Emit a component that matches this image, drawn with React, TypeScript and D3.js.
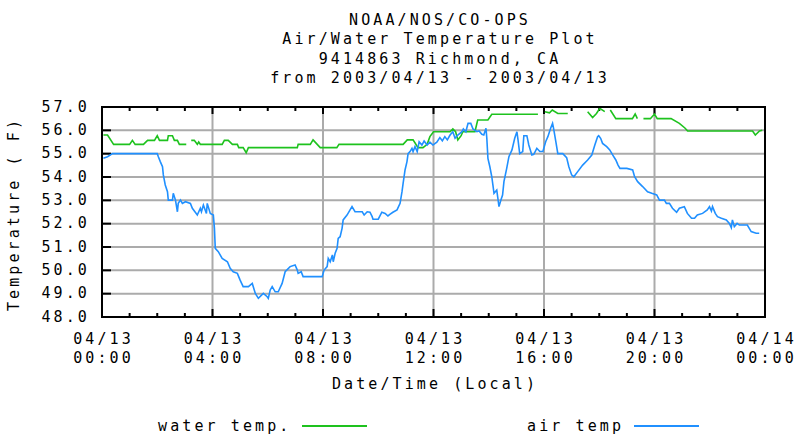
import React from "react";
import * as d3 from "d3";

const WIDTH = 796;
const HEIGHT = 436;
const MARGIN = { top: 107, right: 31, bottom: 119, left: 102 };
const FONT = "'DejaVu Sans Mono', monospace";

const titleLines = [
  "NOAA/NOS/CO-OPS",
  "Air/Water Temperature Plot",
  "9414863 Richmond, CA",
  "from 2003/04/13 - 2003/04/13",
];

// hours since 2003/04/13 00:00
const xTickHours = [0, 4, 8, 12, 16, 20, 24];
const xTickDates = ["04/13", "04/13", "04/13", "04/13", "04/13", "04/13", "04/14"];
const xTickTimes = ["00:00", "04:00", "08:00", "12:00", "16:00", "20:00", "00:00"];
const yTicks = [48, 49, 50, 51, 52, 53, 54, 55, 56, 57];

// water temp, null = missing sample
const waterTime = [
  0.05, 0.2, 0.42, 1.0, 1.1, 1.2, 1.5, 1.65, 1.9, 2.0, 2.08, 2.37, 2.4, 2.55, 2.62, 2.73, 2.8, 3.05,
  3.15, 3.23, 3.34, 3.45, 3.5, 3.56, 4.35, 4.43, 4.57, 4.72, 4.9, 4.95, 5.11, 5.22, 5.3, 7.07, 7.1,
  7.54, 7.64, 7.9, 8.5, 8.58, 10.9, 11.05, 11.26, 11.44, 11.62, 11.77, 11.87, 12.0, 12.6, 12.7, 12.8,
  12.88, 13.0, 13.06, 13.5, 13.6, 13.97, 14.11, 15.78, 15.9, 16.03, 16.2, 16.3, 16.5, 16.86, 17.2,
  17.58, 17.76, 17.9, 18.02, 18.2, 18.3, 18.4, 18.6, 19.2, 19.3, 19.38, 19.5, 19.6, 19.85, 20.0, 20.1,
  20.6, 20.9, 21.1, 21.2, 23.55, 23.65, 23.8, 23.9,
];
const waterTemp = [
  55.8, 55.8, 55.4, 55.4, 55.57, 55.4, 55.4, 55.57, 55.57, 55.77, 55.57, 55.57, 55.77, 55.77, 55.57,
  55.57, 55.4, 55.4, null, 55.57, 55.57, 55.4, 55.5, 55.4, 55.4, 55.57, 55.57, 55.4, 55.4, 55.26,
  55.26, 55.04, 55.26, 55.26, 55.4, 55.4, 55.59, 55.26, 55.26, 55.4, 55.4, 55.59, 55.59, 55.26,
  55.26, 55.4, 55.73, 55.94, 55.94, 56.06, 55.94, 55.59, 55.77, 55.94, 55.94, 56.44, 56.44, 56.69,
  56.69, null, 56.8, 56.75, 56.87, 56.72, 56.72, null, 56.8, 56.55, 56.72, 56.94, 56.8, null, 56.87,
  56.5, 56.5, 56.7, 56.5, null, 56.5, 56.5, 56.7, 56.5, 56.5, 56.3, 56.1, 55.97, 55.97, 55.8, 55.97,
  56.0,
];

const airTime = [
  0.05, 0.2, 0.38, 2.0, 2.04, 2.11, 2.19, 2.22, 2.29, 2.37, 2.4, 2.55, 2.58, 2.66, 2.73, 2.76, 2.84,
  2.91, 3.02, 3.2, 3.27, 3.45, 3.56, 3.6, 3.67, 3.78, 3.81, 3.92, 4.03, 4.07, 4.1, 4.21, 4.35, 4.54,
  4.64, 4.75, 4.9, 5.0, 5.11, 5.3, 5.44, 5.55, 5.66, 5.84, 5.98, 6.02, 6.09, 6.16, 6.27, 6.38, 6.52,
  6.63, 6.81, 6.99, 7.07, 7.1, 7.21, 7.28, 7.97, 8.04, 8.15, 8.19, 8.26, 8.34, 8.37, 8.44, 8.51, 8.55,
  8.62, 8.69, 8.73, 8.87, 8.98, 9.05, 9.16, 9.42, 9.49, 9.6, 9.7, 9.78, 9.81, 10.0, 10.13, 10.25,
  10.35, 10.42, 10.53, 10.68, 10.79, 10.86, 10.9, 10.97, 11.04, 11.08, 11.15, 11.22, 11.26, 11.33,
  11.41, 11.48, 11.58, 11.66, 11.77, 11.87, 11.98, 12.12, 12.23, 12.32, 12.41, 12.5, 12.6, 12.7,
  12.78, 12.88, 13.03, 13.08, 13.17, 13.25, 13.35, 13.43, 13.57, 13.65, 13.75, 13.82, 13.9, 13.93,
  13.97, 14.04, 14.11, 14.15, 14.19, 14.29, 14.33, 14.37, 14.44, 14.5, 14.55, 14.65, 14.73, 14.84,
  14.94, 15.02, 15.06, 15.12, 15.23, 15.27, 15.38, 15.45, 15.56, 15.63, 15.74, 15.85, 15.96, 16.06,
  16.14, 16.24, 16.31, 16.35, 16.43, 16.5, 16.68, 16.82, 16.9, 17.0, 17.08, 17.22, 17.4, 17.58,
  17.73, 17.84, 17.94, 17.98, 18.05, 18.12, 18.27, 18.38, 18.49, 18.6, 18.68, 18.75, 19.0, 19.21,
  19.28, 19.39, 19.57, 19.75, 19.9, 20.08, 20.18, 20.36, 20.43, 20.54, 20.65, 20.8, 20.9, 21.08,
  21.19, 21.34, 21.45, 21.55, 21.74, 21.91, 21.99, 22.06, 22.1, 22.2, 22.28, 22.42, 22.6, 22.71,
  22.78, 22.82, 22.89, 22.99, 23.07, 23.36, 23.5, 23.68, 23.79,
];
const airTemp = [
  54.8, 54.87, 55.0, 55.0, 54.87, 54.66, 54.44, 54.09, 53.66, 53.37, 53.01, 53.01, 53.3, 53.01, 52.51,
  52.87, 53.01, 52.87, 52.94, 52.87, 52.66, 52.37, 52.66, 52.51, 52.8, 52.44, 52.87, 52.44, 52.37,
  51.8, 50.94, 50.8, 50.51, 50.37, 50.09, 49.94, 49.87, 49.58, 49.3, 49.3, 49.44, 49.01, 48.8, 49.01,
  48.87, 48.8, 49.16, 49.3, 49.08, 49.08, 49.44, 49.94, 50.16, 50.23, 50.01, 49.87, 49.94, 49.73,
  49.73, 50.01, 50.16, 50.51, 50.37, 50.66, 50.37, 50.73, 50.94, 51.37, 51.44, 51.8, 52.16, 52.37,
  52.59, 52.73, 52.51, 52.51, 52.37, 52.51, 52.49, 52.3, 52.19, 52.19, 52.49, 52.44, 52.33, 52.4,
  52.49, 52.59, 52.87, 53.37, 53.73, 54.3, 54.66, 55.0, 55.09, 55.23, 55.09, 55.3, 55.09, 55.51,
  55.37, 55.54, 55.37, 55.49, 55.37, 55.49, 55.69, 55.55, 55.73, 55.59, 55.8, 55.94, 55.66, 55.8,
  55.94, 56.06, 55.94, 56.3, 56.3, 56.06, 55.94, 55.97, 55.83, 55.8, 56.09, 55.66, 54.8, 54.44,
  54.01, 53.66, 53.3, 53.44, 53.09, 52.73, 53.01, 53.23, 53.8, 54.37, 54.87, 55.16, 55.66, 55.94,
  55.59, 55.0, 55.09, 55.77, 55.77, 55.37, 54.94, 54.97, 55.23, 55.09, 55.09, 55.51, 55.73, 56.09,
  56.3, 56.06, 55.51, 55.0, 55.0, 54.83, 54.44, 54.09, 54.01, 54.23, 54.51, 54.73, 54.94, 55.37,
  55.73, 55.77, 55.66, 55.44, 55.3, 55.16, 54.94, 54.73, 54.51, 54.37, 54.37, 54.3, 54.01, 53.8,
  53.59, 53.37, 53.3, 53.23, 53.01, 53.01, 52.87, 52.87, 52.66, 52.49, 52.66, 52.73, 52.44, 52.23,
  52.23, 52.37, 52.44, 52.59, 52.73, 52.54, 52.73, 52.44, 52.3, 52.23, 52.16, 52.01, 51.83, 52.16,
  51.87, 52.01, 51.94, 51.94, 51.66, 51.59, 51.59,
];

const WATER_COLOR = "#1ec21e";
const AIR_COLOR = "#2090ff";

const textStyle: React.CSSProperties = {
  fontFamily: FONT,
  fontSize: 15,
  letterSpacing: 3.1,
};

export default function App() {
  const innerW = WIDTH - MARGIN.left - MARGIN.right;
  const innerH = HEIGHT - MARGIN.top - MARGIN.bottom;

  const x = d3.scaleLinear().domain([0, 24]).range([0, innerW]);
  const y = d3.scaleLinear().domain([48, 57]).range([innerH, 0]);

  const makeLine = (times: number[], temps: (number | null)[]) =>
    d3
      .line<number>()
      .defined((i) => temps[i] != null)
      .x((i) => x(times[i]))
      .y((i) => y(temps[i] as number))(d3.range(times.length)) || "";

  const waterPath = makeLine(waterTime, waterTemp);
  const airPath = makeLine(airTime, airTemp);
  const minorHours = d3.range(1, 24).filter((h) => h % 4 !== 0);

  return (
    <svg
      width={WIDTH}
      height={HEIGHT}
      style={{ position: "absolute", left: 0, top: 0, background: "#fff" }}
    >
      {titleLines.map((t, i) => (
        <text key={i} x={440} y={24.5 + i * 19.5} textAnchor="middle" style={textStyle}>
          {t}
        </text>
      ))}

      <g transform={`translate(${MARGIN.left},${MARGIN.top})`}>
        {yTicks.map((v) => (
          <line key={"gy" + v} x1={0} x2={innerW} y1={y(v)} y2={y(v)} stroke="#ababab" strokeWidth={2} />
        ))}
        {xTickHours.map((h) => (
          <line key={"gx" + h} x1={x(h)} x2={x(h)} y1={0} y2={innerH} stroke="#ababab" strokeWidth={2} />
        ))}
        {yTicks.map((v) => (
          <line key={"ty" + v} x1={0} x2={9} y1={y(v)} y2={y(v)} stroke="#000" strokeWidth={2} />
        ))}
        {minorHours.map((h) => (
          <g key={"mx" + h}>
            <line x1={x(h)} x2={x(h)} y1={0} y2={4} stroke="#000" strokeWidth={2} />
            <line x1={x(h)} x2={x(h)} y1={innerH - 4} y2={innerH} stroke="#000" strokeWidth={2} />
          </g>
        ))}
        {xTickHours.map((h) => (
          <g key={"Mx" + h}>
            <line x1={x(h)} x2={x(h)} y1={0} y2={7} stroke="#000" strokeWidth={2} />
            <line x1={x(h)} x2={x(h)} y1={innerH - 8} y2={innerH} stroke="#000" strokeWidth={2} />
          </g>
        ))}

        <path d={waterPath} fill="none" stroke={WATER_COLOR} strokeWidth={1.6} />
        <path d={airPath} fill="none" stroke={AIR_COLOR} strokeWidth={1.6} />

        <rect x={0} y={0} width={innerW} height={innerH} fill="none" stroke="#000" strokeWidth={2} />

        {yTicks.map((v) => (
          <text key={"ly" + v} x={-12} y={y(v) + 4.5} textAnchor="end" style={textStyle}>
            {v.toFixed(1)}
          </text>
        ))}
        {xTickHours.map((h, i) => (
          <g key={"lx" + h}>
            <text x={x(h) + 1.5} y={innerH + 26.5} textAnchor="middle" style={textStyle}>
              {xTickDates[i]}
            </text>
            <text x={x(h) + 1.5} y={innerH + 46} textAnchor="middle" style={textStyle}>
              {xTickTimes[i]}
            </text>
          </g>
        ))}
        <text x={innerW / 2 + 1.5} y={innerH + 72} textAnchor="middle" style={textStyle}>
          Date/Time (Local)
        </text>
      </g>

      <text
        transform={`translate(19,214) rotate(-90)`}
        textAnchor="middle"
        style={textStyle}
      >
        Temperature ( F)
      </text>

      <text x={158} y={431} style={textStyle}>water temp.</text>
      <line x1={302} x2={367} y1={426} y2={426} stroke={WATER_COLOR} strokeWidth={2} />
      <text x={527} y={431} style={textStyle}>air temp</text>
      <line x1={634} x2={699} y1={426} y2={426} stroke={AIR_COLOR} strokeWidth={2} />
    </svg>
  );
}
